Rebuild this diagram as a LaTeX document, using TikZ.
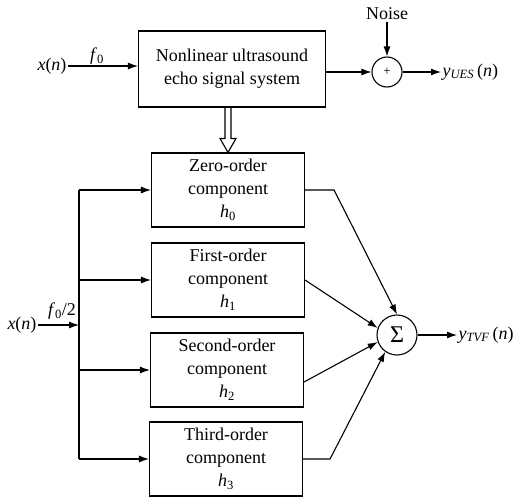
\documentclass[tikz,border=0pt]{standalone}
\usepackage{fontspec}
\setmainfont{Liberation Serif}
\usetikzlibrary{arrows.meta,calc}

\begin{document}
\begin{tikzpicture}[x=1pt,y=-1pt,>={Latex[length=10pt,width=7pt]},line width=1.1pt,
  blk/.style={draw,minimum width=153pt,minimum height=74pt,align=center,inner sep=2pt,font=\fontsize{18}{23}\selectfont},
  sumc/.style={draw,circle,inner sep=0pt},
  lbl/.style={font=\fontsize{18}{22}\selectfont,inner sep=1pt}]
\useasboundingbox (0,0) rectangle (530,501);
% upper path: the real system with noise
\node[blk,minimum width=187pt,minimum height=76pt] (sys) at (232,69) {Nonlinear ultrasound\\echo signal system};
\node[sumc,minimum size=30pt,font=\fontsize{13}{13}\selectfont] (add) at (387,72) {+};
\node[lbl] (noise) at (387,14) {Noise};
\node[lbl] (xa) at (52,66) {\textit{x}(\textit{n})};
\node[lbl] (fa) at (97,56) {\textit{f}\textsubscript{0}};
\node[lbl,anchor=west] (yues) at (441,72) {\textit{y}\textsubscript{\textit{UES}}\,(\textit{n})};
\draw[->] (xa) -- (xa -| sys.west);
\draw[->] (sys.east |- add) -- (add);
\draw[->] (noise) -- (add);
\draw[->] (add) -- (yues);
% lower path: the order components
\node[blk] (zero) at (228,190) {Zero-order\\component\\\textit{h}\textsubscript{0}};
\node[blk] (first) at (228,280) {First-order\\component\\\textit{h}\textsubscript{1}};
\node[blk] (second) at (227,370) {Second-order\\component\\\textit{h}\textsubscript{2}};
\node[blk] (third) at (226,459) {Third-order\\component\\\textit{h}\textsubscript{3}};
% hollow arrow between the two parts
\draw ($(sys.south -| zero.north)+(-3,0)$) -- ($(zero.north)+(-3,-14)$) -- ($(zero.north)+(-8,-14)$)
  -- (zero.north) -- ($(zero.north)+(8,-14)$) -- ($(zero.north)+(3,-14)$) -- ($(sys.south -| zero.north)+(3,0)$);
\node[lbl] (xb) at (22,325) {\textit{x}(\textit{n})};
\node[lbl] (fb) at (62,311) {\textit{f}\textsubscript{0}/2};
\coordinate (split) at (79,325);
\draw[->] (xb) -- (split);
\draw (zero.west -| split) -- (third.west -| split);
\draw[->] (zero.west -| split) -- (zero);
\draw[->] (first.west -| split) -- (first);
\draw[->] (second.west -| split) -- (second);
\draw[->] (third.west -| split) -- (third);
\node[sumc,minimum size=40pt,font=\fontsize{24}{24}\selectfont] (sum) at (397,335) {Σ};
\node[lbl,anchor=west] (ytvf) at (457,335) {\textit{y}\textsubscript{\textit{TVF}}\,(\textit{n})};
\draw[->] (zero.east) -- ++(29,0) -- (sum.north);
\draw[->] (first.east) -- (sum.160);
\draw[->] ($(second.east)+(0,12)$) -- (sum.200);
\draw[->] (third.east) -- ++(27,0) -- (sum.235);
\draw[->] (sum) -- (ytvf);
\end{tikzpicture}
\end{document}
